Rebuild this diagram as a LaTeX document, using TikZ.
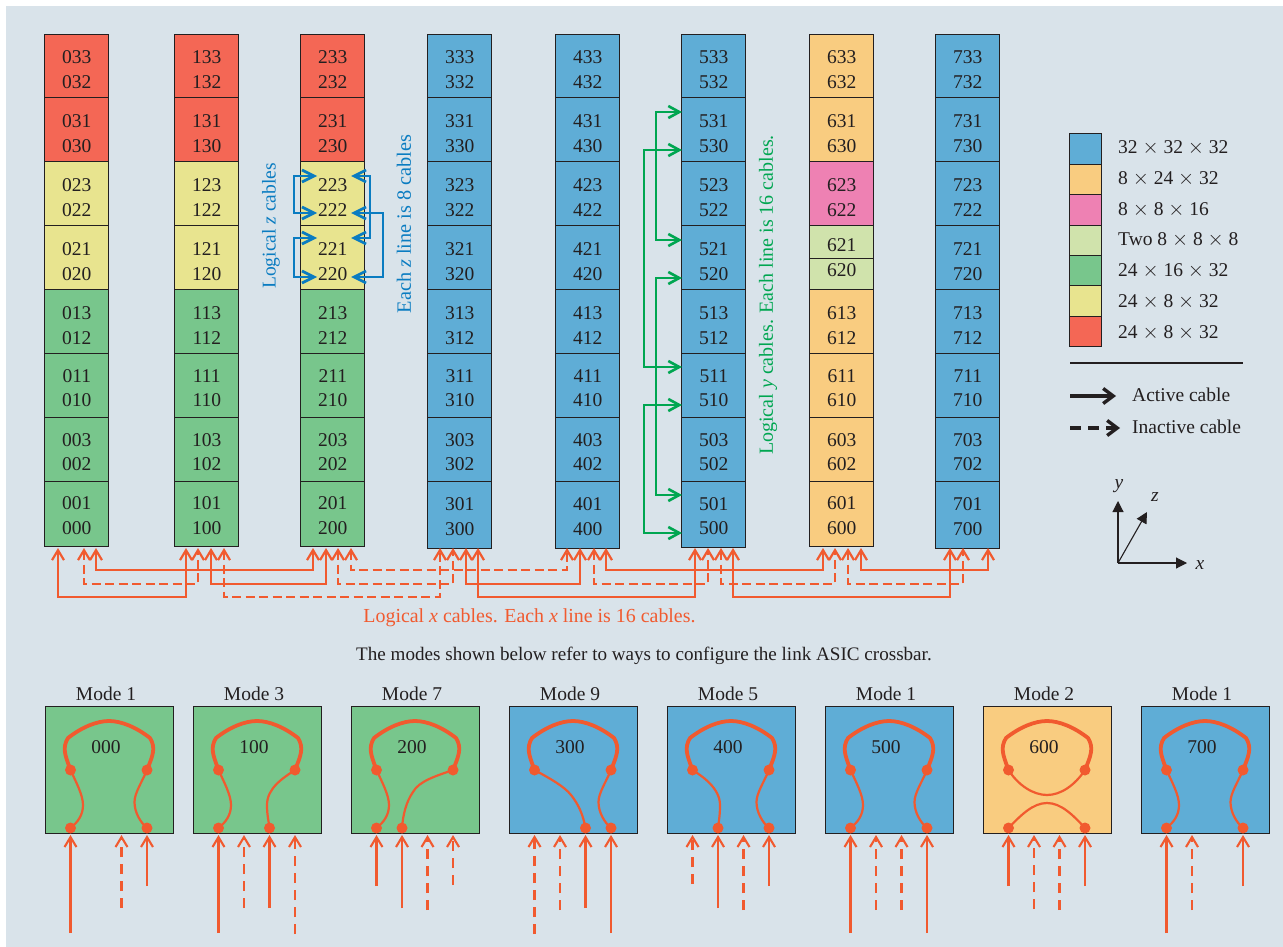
\documentclass[tikz,border=0pt]{standalone}
\usepackage{fontspec}
\setmainfont{Liberation Serif}
\usetikzlibrary{arrows.meta,calc}
\definecolor{bgc}{HTML}{D9E3EA}
\definecolor{blu}{HTML}{5FADD6}
\definecolor{org}{HTML}{F9CC80}
\definecolor{pnk}{HTML}{EE81B3}
\definecolor{lgr}{HTML}{D0E3AC}
\definecolor{grn}{HTML}{78C68C}
\definecolor{yel}{HTML}{E8E48F}
\definecolor{red1}{HTML}{F46755}
\definecolor{cab}{HTML}{F15A2F}
\definecolor{ycab}{HTML}{00A651}
\definecolor{zcab}{HTML}{0A7CC1}
\definecolor{ink}{HTML}{231F20}
\tikzset{
  txt/.style={font=\fontsize{19.5}{24.5}\selectfont,text=ink,inner sep=0pt,align=center},
  cell/.style={txt,draw=ink,line width=0.9pt,minimum width=64pt},
  legsq/.style={draw=ink,line width=0.9pt,minimum width=32pt,inner sep=0pt},
  mbox/.style={draw=ink,line width=0.9pt,minimum width=128pt,minimum height=127pt,inner sep=0pt},
  act/.style={draw=cab,line width=2.1pt,-{Straight Barb[length=10pt,width=12pt,line width=2.1pt]}},
  ina/.style={act,dash pattern=on 10pt off 7pt},
  xact/.style={draw=cab,line width=2.3pt,{Straight Barb[length=10pt,width=12pt,line width=2.2pt]}-{Straight Barb[length=10pt,width=12pt,line width=2.2pt]}},
  xina/.style={xact,dash pattern=on 9pt off 4.5pt},
  ycable/.style={draw=ycab,line width=2.6pt,{Straight Barb[length=11pt,width=12pt,line width=2.6pt]}-{Straight Barb[length=11pt,width=12pt,line width=2.6pt]}},
  zcable/.style={draw=zcab,line width=2.7pt,{Straight Barb[length=12pt,width=12pt,line width=2.7pt]}-{Straight Barb[length=12pt,width=12pt,line width=2.7pt]}},
  dot/.style={circle,fill=cab,inner sep=0pt,minimum size=11pt},
  heavy/.style={draw=cab,line width=3.8pt,line cap=round},
  thin/.style={draw=cab,line width=2.2pt},
  axis/.style={draw=ink,line width=1.1pt,-{Triangle[length=11pt,width=11pt]}},
  legact/.style={draw=ink,line width=3.2pt,-{Straight Barb[length=10pt,width=15pt,line width=3.4pt]}},
}
\newcommand{\tcell}[6]{\node[cell,fill=#5,minimum height={(#4-#3)*1pt}] (#1) at ({#2+32},{(#3+#4)/2}) {#6};}
\newcommand{\twolines}[3]{\raisebox{#1}[0pt][0pt]{\begin{tabular}{@{}c@{}}#2\\#3\end{tabular}}}
\newcommand{\toploop}[1]{\draw[heavy] (uL#1.center) .. controls (20,755) and (17,748) .. (23,738) .. controls (37,727) and (52,721) .. (64,721) .. controls (76,721) and (91,727) .. (105,738) .. controls (111,748) and (108,755) .. (uR#1.center);}
\newcommand{\leftwave}[1]{\draw[thin] (uL#1.center) .. controls (31,782) and (38,795) .. (38,805) .. controls (38,815) and (33,822) .. (lA#1.center);}
\newcommand{\rightwave}[1]{\draw[thin] (uR#1.center) .. controls (97,782) and (89.5,793) .. (89.5,802) .. controls (89.5,812) and (95,822) .. (lD#1.center);}
\newcommand{\modebase}[4]{%
  \node[mbox,fill=#2] (box#1) at (64,770) {};
  \node[txt] (modelab#1) at (61,693.5) {Mode #3};
  \node[txt] (num#1) at (61,747) {#4};
  \node[dot] (uL#1) at (25.5,770) {};
  \node[dot] (uR#1) at (102,770) {};
  \coordinate (pA#1) at (25.5,835);
  \coordinate (pB#1) at (51,835);
  \coordinate (pC#1) at (76.5,835);
  \coordinate (pD#1) at (102,835);
  \toploop{#1}}
\newcommand{\lowdot}[2]{\node[dot] (l#2#1) at (p#2#1 |- 0,828) {};}
\newcommand{\modearrow}[4]{\coordinate (f#2#1) at (p#2#1 |- 0,#3); \draw[#4] (f#2#1) -- (p#2#1);}
\newcommand{\xcable}[4]{\draw[#1] (#2) -- (#2 |- 0,#4) -- (#3 |- 0,#4) -- (#3);}
\begin{document}
\begin{tikzpicture}[x=1pt,y=-1pt]
\useasboundingbox (0,0) rectangle (1283,947);
\fill[white] (0,0) rectangle (1283,947);
\fill[bgc] (6,6) rectangle (1283,947);
% columns
\foreach \k/\x/\bt/\ca/\cb/\cc/\cd in {0/44.8/546/red1/yel/yel/grn,1/174.8/546/red1/yel/yel/grn,2/300.8/546/red1/yel/yel/grn,3/427.8/548/blu/blu/blu/blu,4/555.8/548/blu/blu/blu/blu,5/681.8/547/blu/blu/blu/blu,6/809.8/546/org/pnk/lgr/org,7/935.8/548/blu/blu/blu/blu}{
  \tcell{c\k r1}{\x}{34}{97}{\ca}{\twolines{-11pt}{\k33}{\k32}}
  \tcell{c\k r2}{\x}{97}{161.5}{\ca}{\twolines{-11pt}{\k31}{\k30}}
  \tcell{c\k r3}{\x}{161.5}{225}{\cb}{\twolines{-11pt}{\k23}{\k22}}
  \ifnum\k=6
    \tcell{c\k r4a}{\x}{225}{258}{lgr}{\raisebox{-10pt}[0pt][0pt]{621}}
    \tcell{c\k r4b}{\x}{258}{289.5}{lgr}{\raisebox{-2.75pt}[0pt][0pt]{620}}
  \else
    \tcell{c\k r4}{\x}{225}{289.5}{\cc}{\twolines{-11pt}{\k21}{\k20}}
  \fi
  \tcell{c\k r5}{\x}{289.5}{353}{\cd}{\twolines{-11pt}{\k13}{\k12}}
  \tcell{c\k r6}{\x}{353}{417}{\cd}{\twolines{-10pt}{\k11}{\k10}}
  \tcell{c\k r7}{\x}{417}{481}{\cd}{\twolines{-10pt}{\k03}{\k02}}
  \tcell{c\k r8}{\x}{481}{\bt}{\cd}{\twolines{-9pt}{\k01}{\k00}}
}
% x cable ports
\foreach \n/\x in {a/58,b/84,c/96,d/186,e/198,f/211,g/224,h/313,i/326,j/338,k/351,l/440,m/453,n/466,o/478,p/567,q/580,r/594,s/606,t/695,u/708,v/721,w/733,A/823,B/835,C/848,D/861,E/950,F/963,G/988}{
  \coordinate (x\n) at (\x,548);
}
\xcable{xact}{xa}{xd}{597}
\xcable{xina}{xb}{xe}{584}
\xcable{xact}{xc}{xh}{570}
\xcable{xact}{xf}{xi}{584}
\xcable{xina}{xg}{xl}{597}
\xcable{xina}{xj}{xm}{584}
\xcable{xina}{xk}{xp}{570}
\xcable{xact}{xn}{xq}{584}
\xcable{xact}{xo}{xt}{597}
\xcable{xina}{xr}{xu}{584}
\xcable{xact}{xs}{xA}{570}
\xcable{xina}{xv}{xB}{584}
\xcable{xact}{xw}{xE}{597}
\xcable{xina}{xC}{xF}{584}
\xcable{xact}{xD}{xG}{570}
\node[txt,text=cab,font=\fontsize{19.9}{24}\selectfont] (xlabel) at (529.5,618) {Logical \textit{x} cables. Each \textit{x} line is 16 cables.};
\node[txt,font=\fontsize{19.1}{24}\selectfont] (modenote) at (644,655.5) {The modes shown below refer to ways to configure the link ASIC crossbar.};
% z cables
\foreach \n/\y in {a/176,b/213,c/238,d/277}{
  \coordinate (zl\n) at (317,\y);
  \coordinate (zr\n) at (351,\y);
}
\draw[zcable] (zla) -- (294,176) -- (294,213) -- (zlb);
\draw[zcable] (zlc) -- (294,238) -- (294,277) -- (zld);
\draw[zcable] (zra) -- (370,176) -- (370,238) -- (zrc);
\draw[zcable] (zrb) -- (383,213) -- (383,277) -- (zrd);
\node[txt,text=zcab,rotate=90] (zlabA) at (271,226) {Logical \textit{z} cables};
\node[txt,text=zcab,rotate=90,font=\fontsize{20.3}{24}\selectfont] (zlabB) at (404,224) {Each \textit{z} line is 8 cables};
% y cables
\foreach \n/\y in {a/112,b/150,c/240,d/278,e/367,f/405,g/495,h/533}{
  \coordinate (y\n) at (682,\y);
}
\draw[ycable] (ya) -- (656,112) -- (656,240) -- (yc);
\draw[ycable] (yb) -- (644,150) -- (644,367) -- (ye);
\draw[ycable] (yd) -- (656,278) -- (656,495) -- (yg);
\draw[ycable] (yf) -- (644,405) -- (644,533) -- (yh);
\node[txt,text=ycab,rotate=90,font=\fontsize{20}{24}\selectfont] (ylab) at (768,295) {Logical \textit{y} cables. Each line is 16 cables.};
% legend
\foreach \n/\ya/\yb/\c/\t/\yt in {1/133/164/blu/{32 $\times$ 32 $\times$ 32}/147.5,2/164/194.5/org/{8 $\times$ 24 $\times$ 32}/178.5,3/194.5/225/pnk/{8 $\times$ 8 $\times$ 16}/209.5,4/225/255/lgr/{Two 8 $\times$ 8 $\times$ 8}/239.5,5/255/285.5/grn/{24 $\times$ 16 $\times$ 32}/270.5,6/285.5/316/yel/{24 $\times$ 8 $\times$ 32}/301.5,7/316/346/red1/{24 $\times$ 8 $\times$ 32}/332.5}{
  \node[legsq,fill=\c,minimum height={(\yb-\ya)*1pt}] (sq\n) at (1085.5,{(\ya+\yb)/2}) {};
  \node[txt,anchor=west] (sqt\n) at (1118,\yt) {\t};
}
\coordinate (ruleA) at (1070,363);
\coordinate (ruleB) at (1243,363);
\draw[ink,line width=1.6pt] (ruleA) -- (ruleB);
\coordinate (actA) at (1070,396);
\coordinate (actB) at (1116,396);
\draw[legact] (actA) -- (actB);
\node[txt,anchor=west] (acttxt) at (1132,395) {Active cable};
\coordinate (inaA) at (1070,428);
\coordinate (inaB) at (1120,428);
\draw[legact,dash pattern=on 11pt off 7pt] (inaA) -- (inaB);
\node[txt,anchor=west] (inatxt) at (1132,427) {Inactive cable};
% axes
\coordinate (orig) at (1118,563);
\coordinate (axy) at (1118,501);
\coordinate (axx) at (1187,563);
\coordinate (axz) at (1147,512);
\draw[axis] (orig) -- (axy);
\draw[axis] (orig) -- (axx);
\draw[axis] (orig) -- (axz);
\node[txt] (laby) at (1119,486) {\textit{y}};
\node[txt] (labz) at (1155,497) {\textit{z}};
\node[txt] (labx) at (1200,565) {\textit{x}};
% mode boxes
\begin{scope}[shift={(45,0)}]
\modebase{0}{grn}{1}{000}
\lowdot{0}{A}\lowdot{0}{D}
\leftwave{0}\rightwave{0}
\modearrow{0}{A}{933}{act}
\modearrow{0}{C}{908}{ina}
\modearrow{0}{D}{886}{act}
\end{scope}
\begin{scope}[shift={(193,0)}]
\modebase{1}{grn}{3}{100}
\lowdot{1}{A}\lowdot{1}{C}
\leftwave{1}
\draw[thin] (uR1.center) .. controls (90,778) and (74,788) .. (74,805) .. controls (74,815) and (75.5,820) .. (lC1.center);
\modearrow{1}{A}{933}{act}
\modearrow{1}{B}{908}{ina}
\modearrow{1}{C}{908}{act}
\modearrow{1}{D}{934}{ina}
\end{scope}
\begin{scope}[shift={(351,0)}]
\modebase{2}{grn}{7}{200}
\lowdot{2}{A}\lowdot{2}{B}
\leftwave{2}
\draw[thin] (uR2.center) .. controls (85,776) and (68,781) .. (62,792) .. controls (55,802) and (52,815) .. (lB2.center);
\modearrow{2}{A}{886}{act}
\modearrow{2}{B}{908}{act}
\modearrow{2}{C}{910}{ina}
\modearrow{2}{D}{885}{ina}
\end{scope}
\begin{scope}[shift={(509,0)}]
\modebase{3}{blu}{9}{300}
\lowdot{3}{C}\lowdot{3}{D}
\rightwave{3}
\draw[thin] (uL3.center) .. controls (40,778) and (55,786) .. (62,795) .. controls (70,805) and (74,815) .. (lC3.center);
\modearrow{3}{A}{934}{ina}
\modearrow{3}{B}{910}{ina}
\modearrow{3}{C}{908}{act}
\modearrow{3}{D}{933}{act}
\end{scope}
\begin{scope}[shift={(667,0)}]
\modebase{4}{blu}{5}{400}
\lowdot{4}{B}\lowdot{4}{D}
\rightwave{4}
\draw[thin] (uL4.center) .. controls (35,776) and (53,788) .. (53,805) .. controls (53,815) and (52,820) .. (lB4.center);
\modearrow{4}{A}{884}{ina}
\modearrow{4}{B}{908}{act}
\modearrow{4}{C}{910}{ina}
\modearrow{4}{D}{886}{act}
\end{scope}
\begin{scope}[shift={(825,0)}]
\modebase{5}{blu}{1}{500}
\lowdot{5}{A}\lowdot{5}{D}
\leftwave{5}\rightwave{5}
\modearrow{5}{A}{933}{act}
\modearrow{5}{B}{910}{ina}
\modearrow{5}{C}{910}{ina}
\modearrow{5}{D}{933}{act}
\end{scope}
\begin{scope}[shift={(983,0)}]
\modebase{6}{org}{2}{600}
\lowdot{6}{A}\lowdot{6}{D}
\draw[thin] (uL6.center) .. controls (35,785) and (50,795) .. (64,795) .. controls (78,795) and (92,785) .. (uR6.center);
\draw[thin] (lA6.center) .. controls (38,815) and (50,803) .. (64,803) .. controls (78,803) and (90,815) .. (lD6.center);
\modearrow{6}{A}{886}{act}
\modearrow{6}{B}{909}{ina}
\modearrow{6}{C}{910}{ina}
\modearrow{6}{D}{886}{act}
\end{scope}
\begin{scope}[shift={(1141,0)}]
\modebase{7}{blu}{1}{700}
\lowdot{7}{A}\lowdot{7}{D}
\leftwave{7}\rightwave{7}
\modearrow{7}{A}{933}{act}
\modearrow{7}{B}{910}{ina}
\modearrow{7}{D}{886}{act}
\end{scope}
\end{tikzpicture}
\end{document}
